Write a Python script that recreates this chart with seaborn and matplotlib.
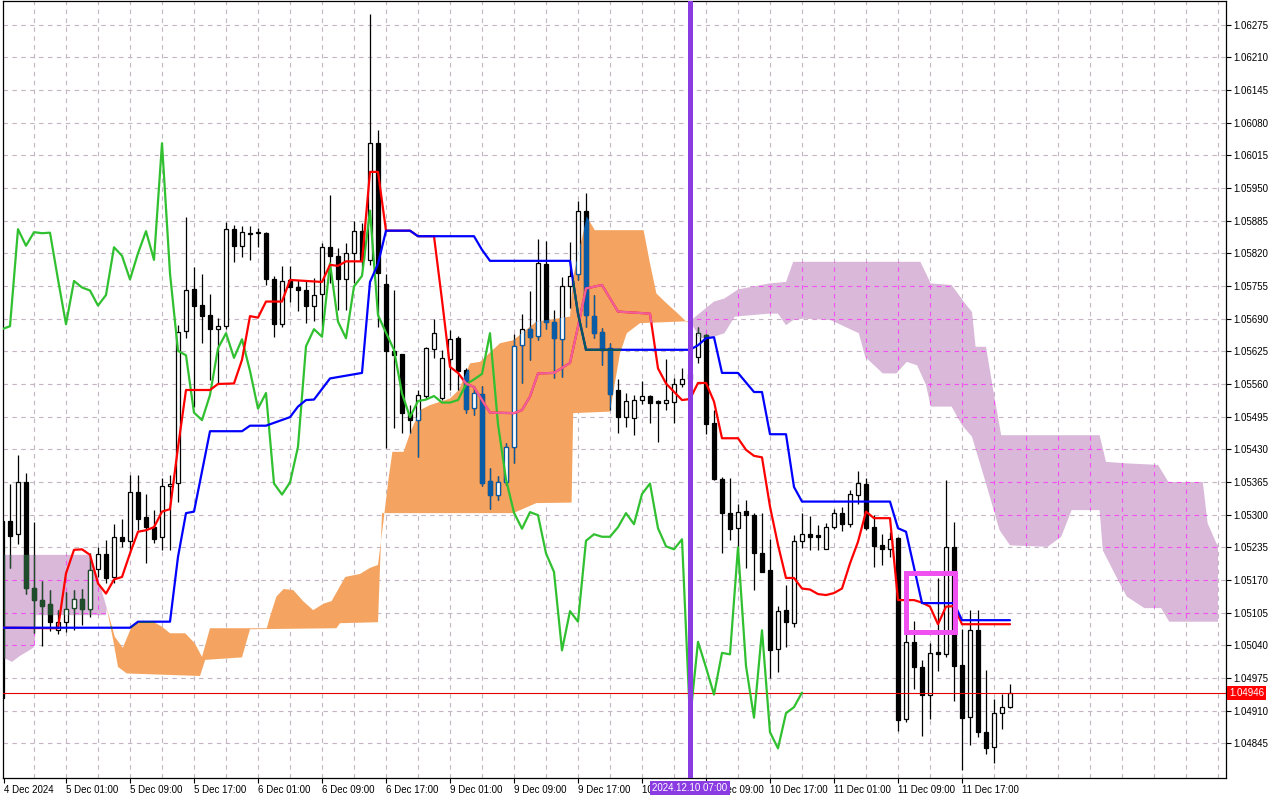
import numpy as np
import matplotlib
matplotlib.use("Agg")
import matplotlib.pyplot as plt
from matplotlib.patches import Polygon, Rectangle
import seaborn as sns

# EURUSD H1 candles, bar 0 = 4 Dec 17:00 (weekend gap after bar 54)
opens = [1.04935, 1.05287, 1.05261, 1.05364, 1.05154, 1.05131, 1.05122, 1.05070, 1.05086, 1.05115,
         1.05133, 1.05113, 1.05192, 1.05221, 1.05175, 1.05256, 1.05248, 1.05346, 1.05295, 1.05275,
         1.05255, 1.05357, 1.05362, 1.05666, 1.05749, 1.05717, 1.05697, 1.05669, 1.05676, 1.05868,
         1.05834, 1.05859, 1.05860, 1.05860, 1.05768, 1.05679, 1.05767, 1.05753, 1.05747, 1.05716,
         1.05740, 1.05832, 1.05815, 1.05769, 1.05820, 1.05864, 1.05807, 1.06039, 1.05759, 1.05626,
         1.05620, 1.05503, 1.05488, 1.05536, 1.05629, 1.05533, 1.05610, 1.05651, 1.05588, 1.05513,
         1.05541, 1.05367, 1.05340, 1.05364, 1.05435, 1.05637, 1.05669, 1.05656, 1.05799, 1.05684,
         1.05649, 1.05754, 1.05778, 1.05905, 1.05695, 1.05664, 1.05631, 1.05548, 1.05494, 1.05492,
         1.05529, 1.05536, 1.05526, 1.05523, 1.05525, 1.05559, 1.05569, 1.05613, 1.05657, 1.05482,
         1.05370, 1.05304, 1.05273, 1.05307, 1.05299, 1.05223, 1.05190, 1.05032, 1.05110, 1.05085,
         1.05248, 1.05261, 1.05259, 1.05231, 1.05276, 1.05304, 1.05281, 1.05339, 1.05361, 1.05276,
         1.05239, 1.05231, 1.05253, 1.04893, 1.05047, 1.04996, 1.04942, 1.05026, 1.05022, 1.05235,
         1.05001, 1.04898, 1.05070, 1.04867, 1.04837, 1.04905, 1.04917]
highs = [1.05290, 1.05360, 1.05419, 1.05382, 1.05286, 1.05168, 1.05150, 1.05111, 1.05147, 1.05151,
         1.05152, 1.05223, 1.05236, 1.05249, 1.05281, 1.05291, 1.05379, 1.05379, 1.05342, 1.05309,
         1.05372, 1.05379, 1.05677, 1.05893, 1.05792, 1.05778, 1.05740, 1.05692, 1.05882, 1.05876,
         1.05875, 1.05875, 1.05870, 1.05862, 1.05775, 1.05795, 1.05795, 1.05767, 1.05767, 1.05771,
         1.05840, 1.05936, 1.05830, 1.05841, 1.05885, 1.05880, 1.06296, 1.06065, 1.05779, 1.05747,
         1.05620, 1.05518, 1.05548, 1.05634, 1.05689, 1.05628, 1.05667, 1.05655, 1.05592, 1.05555,
         1.05556, 1.05392, 1.05377, 1.05442, 1.05659, 1.05699, 1.05745, 1.05848, 1.05844, 1.05707,
         1.05772, 1.05843, 1.05925, 1.05939, 1.05738, 1.05671, 1.05641, 1.05570, 1.05543, 1.05538,
         1.05566, 1.05538, 1.05528, 1.05609, 1.05571, 1.05592, 1.05600, 1.05674, 1.05659, 1.05508,
         1.05374, 1.05372, 1.05321, 1.05330, 1.05304, 1.05304, 1.05251, 1.05118, 1.05160, 1.05259,
         1.05304, 1.05297, 1.05279, 1.05284, 1.05311, 1.05316, 1.05349, 1.05387, 1.05373, 1.05299,
         1.05261, 1.05266, 1.05255, 1.05064, 1.05089, 1.05011, 1.05044, 1.05173, 1.05369, 1.05286,
         1.05072, 1.05111, 1.05111, 1.04991, 1.04934, 1.04944, 1.04963]
lows = [1.04930, 1.05193, 1.05241, 1.05143, 1.05064, 1.05039, 1.05069, 1.05062, 1.05067, 1.05070,
        1.05080, 1.05097, 1.05176, 1.05163, 1.05163, 1.05236, 1.05223, 1.05269, 1.05204, 1.05243,
        1.05229, 1.05229, 1.05326, 1.05651, 1.05515, 1.05642, 1.05568, 1.05561, 1.05670, 1.05803,
        1.05813, 1.05807, 1.05833, 1.05757, 1.05653, 1.05674, 1.05724, 1.05705, 1.05682, 1.05685,
        1.05674, 1.05760, 1.05707, 1.05707, 1.05760, 1.05793, 1.05797, 1.05674, 1.05432, 1.05472,
        1.05463, 1.05462, 1.05415, 1.05531, 1.05611, 1.05528, 1.05548, 1.05548, 1.05502, 1.05498,
        1.05357, 1.05312, 1.05330, 1.05359, 1.05403, 1.05561, 1.05608, 1.05647, 1.05669, 1.05571,
        1.05574, 1.05711, 1.05767, 1.05674, 1.05651, 1.05598, 1.05508, 1.05463, 1.05475, 1.05458,
        1.05520, 1.05483, 1.05445, 1.05508, 1.05483, 1.05554, 1.05550, 1.05602, 1.05460, 1.05369,
        1.05223, 1.05249, 1.05229, 1.05193, 1.05150, 1.05186, 1.04974, 1.04987, 1.05037, 1.05077,
        1.05234, 1.05229, 1.05229, 1.05231, 1.05271, 1.05268, 1.05275, 1.05322, 1.05269, 1.05196,
        1.05200, 1.05216, 1.04870, 1.04888, 1.04954, 1.04859, 1.04893, 1.04989, 1.05017, 1.04930,
        1.04792, 1.04841, 1.04858, 1.04824, 1.04806, 1.04873, 1.04915]
closes = [1.05287, 1.05258, 1.05364, 1.05155, 1.05131, 1.05119, 1.05087, 1.05086, 1.05113, 1.05133,
          1.05113, 1.05190, 1.05221, 1.05174, 1.05256, 1.05248, 1.05346, 1.05291, 1.05275, 1.05251,
          1.05357, 1.05361, 1.05664, 1.05747, 1.05716, 1.05696, 1.05669, 1.05675, 1.05868, 1.05835,
          1.05862, 1.05860, 1.05861, 1.05768, 1.05679, 1.05765, 1.05752, 1.05746, 1.05716, 1.05737,
          1.05832, 1.05815, 1.05768, 1.05820, 1.05864, 1.05807, 1.06039, 1.05780, 1.05626, 1.05617,
          1.05503, 1.05488, 1.05538, 1.05631, 1.05661, 1.05612, 1.05649, 1.05586, 1.05511, 1.05542,
          1.05362, 1.05340, 1.05364, 1.05435, 1.05635, 1.05669, 1.05654, 1.05800, 1.05684, 1.05651,
          1.05754, 1.05775, 1.05905, 1.05697, 1.05662, 1.05628, 1.05541, 1.05494, 1.05526, 1.05529,
          1.05536, 1.05523, 1.05523, 1.05528, 1.05559, 1.05569, 1.05580, 1.05661, 1.05480, 1.05370,
          1.05304, 1.05272, 1.05305, 1.05299, 1.05223, 1.05186, 1.05030, 1.05108, 1.05087, 1.05248,
          1.05261, 1.05256, 1.05256, 1.05275, 1.05303, 1.05281, 1.05341, 1.05362, 1.05273, 1.05237,
          1.05231, 1.05251, 1.04891, 1.05047, 1.04996, 1.04942, 1.05025, 1.05022, 1.05235, 1.04999,
          1.04896, 1.05070, 1.04867, 1.04835, 1.04905, 1.04917, 1.04946]

# Tenkan-sen (red), vertices by bar index
tenkan_idx = [0, 7, 8, 9, 10, 11, 12, 13, 14, 15, 16, 17, 18, 19, 20, 21, 22, 23, 26, 27, 29,
              30, 31, 32, 33, 35, 36, 40, 41, 42, 43, 45, 46, 47, 48, 51, 52, 54, 55, 56, 57,
              58, 59, 60, 61, 64, 65, 66, 67, 69, 71, 72, 73, 75, 77, 81, 82, 83, 85, 86, 87,
              88, 89, 90, 92, 93, 94, 95, 96, 97, 98, 99, 100, 101, 102, 103, 104, 105, 106, 107, 108,
              109, 111, 112, 114, 115, 116, 117, 118, 119, 120, 126]
tenkan_val = [1.05075, 1.05074, 1.05183, 1.05230, 1.05231, 1.05220, 1.05163, 1.05143, 1.05171, 1.05176, 1.05223,
              1.05266, 1.05269, 1.05275, 1.05306, 1.05311, 1.05434, 1.05548, 1.05548, 1.05560, 1.05561,
              1.05608, 1.05695, 1.05692, 1.05724, 1.05724, 1.05767, 1.05763, 1.05797, 1.05795, 1.05804,
              1.05804, 1.05982, 1.05982, 1.05865, 1.05865, 1.05854, 1.05854, 1.05727, 1.05594, 1.05582,
              1.05561, 1.05554, 1.05528, 1.05503, 1.05502, 1.05508, 1.05535, 1.05581, 1.05582, 1.05602,
              1.05674, 1.05750, 1.05757, 1.05704, 1.05700, 1.05591, 1.05561, 1.05528, 1.05530, 1.05562,
              1.05562, 1.05525, 1.05452, 1.05452, 1.05429, 1.05417, 1.05414, 1.05316, 1.05240, 1.05174,
              1.05174, 1.05153, 1.05151, 1.05142, 1.05140, 1.05144, 1.05153, 1.05203, 1.05246, 1.05306,
              1.05293, 1.05293, 1.05130, 1.05130, 1.05125, 1.05117, 1.05082, 1.05117, 1.05118, 1.05082,
              1.05082]

# Kijun-sen (blue)
kijun_idx = [0, 16, 17, 21, 22, 23, 24, 26, 30, 31, 33, 36, 37, 38, 39, 41, 45, 46, 47, 48,
             51, 52, 59, 60, 61, 71, 72, 73, 86, 87, 88, 89, 90, 92, 94, 95, 96, 98, 99, 100,
             111, 112, 113, 115, 119, 120, 126]
kijun_val = [1.05075, 1.05075, 1.05087, 1.05087, 1.05216, 1.05303, 1.05306, 1.05466, 1.05466, 1.05477,
             1.05477, 1.05494, 1.05515, 1.05528, 1.05529, 1.05571, 1.05582, 1.05763, 1.05799, 1.05865,
             1.05865, 1.05854, 1.05854, 1.05827, 1.05805, 1.05805, 1.05700, 1.05628, 1.05628, 1.05637,
             1.05651, 1.05653, 1.05582, 1.05582, 1.05544, 1.05544, 1.05460, 1.05460, 1.05355, 1.05326,
             1.05326, 1.05273, 1.05266, 1.05124, 1.05124, 1.05090, 1.05090]

# Kumo outlines, one polygon per colour
plum1_top_idx = [0, 11, 12, 13.1]
plum1_top = [1.05220, 1.05220, 1.05174, 1.05114]
plum1_bot_idx = [0, 1.25, 2.25, 3.1, 3.9, 4.1, 4.25, 13, 13.1]
plum1_bot = [1.05017, 1.05007, 1.05019, 1.05027, 1.05035, 1.05041, 1.05100, 1.05100, 1.05114]

orange_top_idx = [13.1, 14.1, 15.1, 16.2, 17.25, 18.9, 20, 21, 22.9, 24.1,
                  25, 26, 33.1, 33.5, 34.3, 35.2, 36.4, 37.7, 38.9, 40.2,
                  41.2, 42.9, 44.75, 46, 47, 47.7, 48.3, 48.8, 50.2, 51,
                  52.25, 53.5, 56, 57.1, 58.5, 59.75, 62.25, 63.9, 66.8, 71,
                  71.4, 73.1, 74.1, 80.2, 81, 81.8, 83.1, 84.3, 85.6, 86]
orange_top = [1.05114, 1.05057, 1.05035, 1.05077, 1.05087, 1.05087, 1.05077, 1.05064, 1.05064, 1.05044,
              1.05017, 1.05074, 1.05074, 1.05097, 1.05137, 1.05152, 1.05150, 1.05127, 1.05110, 1.05123,
              1.05128, 1.05176, 1.05182, 1.05194, 1.05200, 1.05289, 1.05369, 1.05425, 1.05425, 1.05462,
              1.05508, 1.05518, 1.05531, 1.05548, 1.05601, 1.05604, 1.05641, 1.05647, 1.05684, 1.05694,
              1.05773, 1.05893, 1.05866, 1.05866, 1.05800, 1.05740, 1.05720, 1.05703, 1.05683, 1.05685]
orange_bot_idx = [13.1, 13.9, 14.5, 15.6, 24.75, 25.4, 30, 31, 41.8, 42.25, 47,
                  47.5, 63.9, 66.8, 71.2, 71.4, 76, 77.25, 78.1, 79.75, 86]
orange_bot = [1.05114, 1.05050, 1.04997, 1.04984, 1.04979, 1.05011, 1.05016, 1.05072, 1.05074, 1.05084, 1.05086,
              1.05303, 1.05303, 1.05323, 1.05324, 1.05502, 1.05505, 1.05621, 1.05661, 1.05681, 1.05685]

plum2_top_idx = [86, 89, 90.3, 92, 95.9, 98, 98.9, 114.8, 116.1, 118.7, 120.4, 121.25, 121.7,
                 123, 123.9, 124.9, 137.2, 138, 140.6, 144.5, 145.8, 150.1, 150.7, 151.8, 152]
plum2_top = [1.05685, 1.05724, 1.05730, 1.05748, 1.05760, 1.05763, 1.05803, 1.05803, 1.05760, 1.05757,
             1.05720, 1.05703, 1.05634, 1.05634, 1.05548, 1.05458, 1.05458, 1.05405, 1.05402, 1.05399,
             1.05365, 1.05365, 1.05283, 1.05243, 1.05239]
plum2_bot_idx = [86, 87.25, 89, 90.3, 91.6, 95.9, 97, 98, 98.9, 100.2, 103.6, 107.1, 107.9, 110.1,
                 111.8, 113.1, 114.4, 115.5, 116.1, 118.7, 120, 121.25, 123, 124.7, 126, 130.7,
                 132.4, 133.7, 137.2, 137.6, 139.3, 140.6, 142.8, 144.9, 145.9, 152]
plum2_bot = [1.05685, 1.05651, 1.05654, 1.05661, 1.05694, 1.05700, 1.05700, 1.05677, 1.05687, 1.05690,
             1.05687, 1.05661, 1.05614, 1.05581, 1.05581, 1.05604, 1.05597, 1.05558, 1.05515, 1.05515,
             1.05478, 1.05455, 1.05362, 1.05269, 1.05239, 1.05236, 1.05256, 1.05309, 1.05309, 1.05229,
             1.05176, 1.05137, 1.05114, 1.05114, 1.05087, 1.05087]

price_labels = ["1.04845", "1.04910", "1.04975", "1.05040", "1.05105", "1.05170", "1.05235",
                "1.05300", "1.05365", "1.05430", "1.05495", "1.05560", "1.05625", "1.05690",
                "1.05755", "1.05820", "1.05885", "1.05950", "1.06015", "1.06080", "1.06145",
                "1.06210", "1.06275"]
time_idx = [0.25, 8, 16, 24, 32, 40, 48, 56, 64, 72, 80, 88, 96, 104, 112, 120]
time_labels = ["4 Dec 2024", "5 Dec 01:00", "5 Dec 09:00", "5 Dec 17:00", "6 Dec 01:00",
               "6 Dec 09:00", "6 Dec 17:00", "9 Dec 01:00", "9 Dec 09:00", "9 Dec 17:00",
               "10 Dec 01:00", "10 Dec 09:00", "10 Dec 17:00", "11 Dec 01:00", "11 Dec 09:00",
               "11 Dec 17:00"]

last_price = 1.04946
marker_bar = 86
marker_text = "2024.12.10 07:00"
box_idx = [113, 119.1]
box_price = [1.05066, 1.05183]
chikou_shift = 26

sns.set_theme(style="white")
plt.rcParams["font.family"] = ["Liberation Sans", "DejaVu Sans"]

fig = plt.figure(figsize=(12.8, 8), dpi=100)
ax = fig.add_axes([3 / 1280, 22 / 800, 1223 / 1280, 777 / 800])
ax.set_facecolor("white")

price_ticks = [float(s) for s in price_labels]

# dashed grid
grid_kw = dict(color="#c4b4c4", lw=0.8, ls=(0, (4, 4)), zorder=0.5)
for p in price_ticks:
    ax.axhline(p, **grid_kw)
grid_x = list(range(0, 153, 4))
for g in grid_x:
    ax.axvline(g, **grid_kw)


def cloud(top_i, top_v, bot_i, bot_v, color):
    pts = list(zip(top_i, top_v)) + list(zip(bot_i[::-1], bot_v[::-1]))
    patch = Polygon(pts, closed=True, fc=color, ec="none", zorder=1)
    ax.add_patch(patch)
    return patch


plum1 = cloud(plum1_top_idx, plum1_top, plum1_bot_idx, plum1_bot, "#d9b8d9")
orange = cloud(orange_top_idx, orange_top, orange_bot_idx, orange_bot, "#f4a460")
plum2 = cloud(plum2_top_idx, plum2_top, plum2_bot_idx, plum2_bot, "#d9b8d9")

# grid shows magenta through the thistle cloud
for patch in (plum1, plum2):
    for p in price_ticks:
        ln = ax.axhline(p, color="#f050f0", lw=0.8, ls=(0, (4, 4)), zorder=1.1)
        ln.set_clip_path(patch)
    for g in grid_x:
        ln = ax.axvline(g, color="#f050f0", lw=0.8, ls=(0, (4, 4)), zorder=1.1)
        ln.set_clip_path(patch)

x = np.arange(len(opens))
o = np.array(opens)
h = np.array(highs)
l = np.array(lows)
c = np.array(closes)
bull = c >= o
body_lo = np.minimum(o, c)
body_h = np.maximum(np.abs(c - o), 0.00002)


def draw_candles(color, clip=None, z=2):
    wick = ax.vlines(x, l, h, colors=color, lw=0.9, zorder=z)
    bars = ax.bar(x, body_h, bottom=body_lo, width=0.62,
                  color=np.where(bull, "white", color), edgecolor=color,
                  linewidth=0.9, zorder=z + 0.05)
    if clip is not None:
        wick.set_clip_path(clip)
        for b in bars:
            b.set_clip_path(clip)


draw_candles("black")
draw_candles("#0b5ca6", clip=orange, z=2.2)
draw_candles("#1f4d2c", clip=plum1, z=2.2)
draw_candles("#1f4d2c", clip=plum2, z=2.2)

ax.axhline(last_price, color="#e00000", lw=0.8, zorder=2.6)

# chikou = closes shifted back
sns.lineplot(x=x[:-chikou_shift], y=c[chikou_shift:], ax=ax, color="#30c030",
             linewidth=1.6, zorder=3, estimator=None, sort=False, legend=False)
sns.lineplot(x=tenkan_idx, y=tenkan_val, ax=ax, color="#ff0000",
             linewidth=1.6, zorder=3.1, estimator=None, sort=False, legend=False)
pink = ax.plot(tenkan_idx, tenkan_val, color="#f0609c", lw=1.6, zorder=3.15)[0]
pink.set_clip_path(orange)
sns.lineplot(x=kijun_idx, y=kijun_val, ax=ax, color="#0000ff",
             linewidth=1.6, zorder=3.2, estimator=None, sort=False, legend=False)
teal = ax.plot(kijun_idx, kijun_val, color="#0a5858", lw=1.6, zorder=3.25)[0]
teal.set_clip_path(orange)

ax.add_patch(Rectangle((box_idx[0], box_price[0]), box_idx[1] - box_idx[0],
                       box_price[1] - box_price[0], fill=False, ec="#f050f0",
                       lw=3.6, zorder=4))
ax.axvline(marker_bar, color="#8a3be2", lw=3.6, zorder=4)

ax.set_xlim(0.125, 153)
ax.set_ylim(1.04776, 1.06322)

ax.yaxis.tick_right()
ax.set_yticks(price_ticks)
ax.set_yticklabels(price_labels)
ax.set_xticks(time_idx)
ax.set_xticklabels(time_labels, ha="left")
ax.tick_params(axis="both", direction="out", length=3.5, width=0.8, color="black",
               labelsize=7, labelcolor="black", pad=1.5)
ax.tick_params(axis="y", left=False, right=True)
ax.tick_params(axis="x", bottom=True)
ax.set_xlabel("")
ax.set_ylabel("")
for s in ax.spines.values():
    s.set_visible(True)
    s.set_color("black")
    s.set_linewidth(0.9)

ax.annotate(marker_text, xy=(marker_bar, 0), xycoords=("data", "axes fraction"),
            xytext=(0, -10), textcoords="offset pixels", ha="center", va="center",
            color="white", fontsize=7, annotation_clip=False, zorder=10,
            bbox=dict(boxstyle="square,pad=0.2", fc="#8a3be2", ec="none"))
ax.annotate(f"{last_price:.5f}", xy=(1, last_price), xycoords=("axes fraction", "data"),
            xytext=(3, 0), textcoords="offset pixels", ha="left", va="center",
            color="white", fontsize=7, annotation_clip=False, zorder=10,
            bbox=dict(boxstyle="square,pad=0.2", fc="#ff0000", ec="none"))

fig.savefig("out.png", dpi=100)
